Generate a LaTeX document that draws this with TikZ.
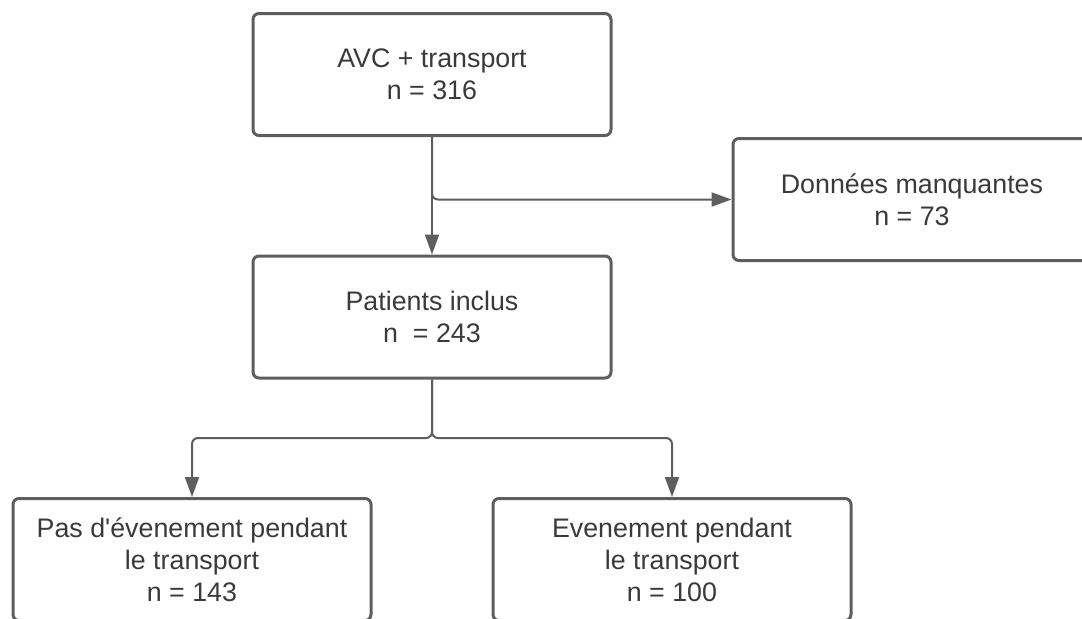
\documentclass[tikz,border=0pt]{standalone}
\usepackage{fontspec}
\setmainfont{Liberation Sans}[Ligatures=TeXOff]
\usetikzlibrary{arrows.meta}
\definecolor{edgegray}{HTML}{5E5E5E}
\definecolor{textgray}{HTML}{3A3A3A}
\begin{document}
\begin{tikzpicture}[x=0.5pt,y=-0.5pt,
  flowbox/.style={draw=edgegray, line width=1.5pt, rounded corners=3pt, fill=white,
    minimum width=179pt, minimum height=61pt, inner sep=0pt, align=center,
    text=textgray, font=\fontsize{13.4}{16}\selectfont},
  link/.style={draw=edgegray, line width=1pt, rounded corners=3pt,
    -{Triangle[length=10pt,width=7pt]}}]
\useasboundingbox (0,0) rectangle (1082,618);
\clip (0,0) rectangle (1082,618);
\fill[white] (0,0) rectangle (1082,618);
\node[flowbox] (top) at (432,74.5) {AVC + transport\\n = 316};
\node[flowbox] (miss) at (912,199.5) {Données manquantes\\n = 73};
\node[flowbox] (mid) at (432,317) {Patients inclus\\n\ \ = 243};
\node[flowbox] (bl) at (192,559.5) {Pas d'évenement pendant\\le transport\\n = 143};
\node[flowbox] (br) at (672,559.5) {Evenement pendant\\le transport\\n = 100};
\coordinate (fork) at (432,438);
\draw[link] (top.south) -- (mid.north);
\draw[link] (top.south) |- (miss.west);
\draw[link] (mid.south) -- (fork) -| (bl.north);
\draw[link] (mid.south) -- (fork) -| (br.north);
\end{tikzpicture}
\end{document}
